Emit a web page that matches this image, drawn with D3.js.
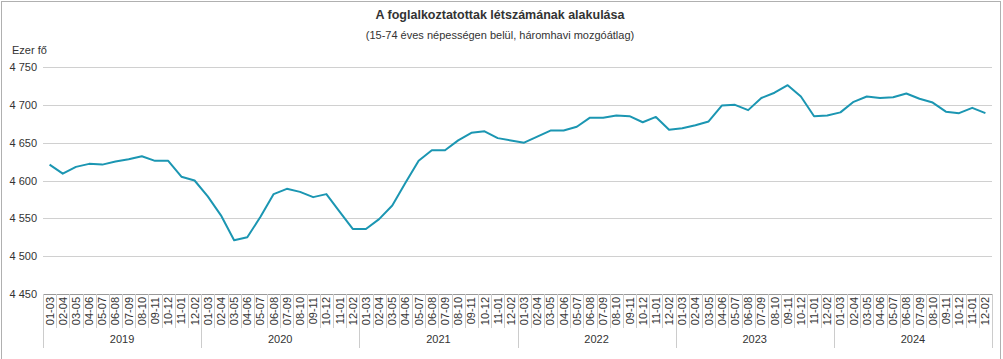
<!DOCTYPE html>
<html><head><meta charset="utf-8">
<script src="https://cdn.jsdelivr.net/npm/d3@7"></script>
<style>body{margin:0;background:#fff;} text{font-family:"Liberation Sans",Arial,sans-serif;}</style>
</head><body>
<svg id="c" width="1003" height="359"></svg>
<script>
const years = ["2019","2020","2021","2022","2023","2024"];
const periods = ["01-03","02-04","03-05","04-06","05-07","06-08","07-09","08-10","09-11","10-12","11-01","12-02"];
const values2019 = [4621,4609,4618,4622,4621,4625,4628,4632,4626,4626,4605,4600];
const values2020 = [4579,4554,4521,4525,4552,4582,4589,4585,4578,4582,4559,4536];
const values2021 = [4536,4549,4567,4597,4626,4640,4640,4653,4663,4665,4656,4653];
const values2022 = [4650,4658,4666,4666,4671,4683,4683,4686,4685,4677,4684,4667];
const values2023 = [4669,4673,4678,4699,4700,4693,4709,4716,4726,4711,4685,4686];
const values2024 = [4690,4704,4711,4709,4710,4715,4708,4703,4691,4689,4696,4689];
const yTicks = [4450,4500,4550,4600,4650,4700,4750];

(function(){
const allValues = [values2019,values2020,values2021,values2022,values2023,values2024];
const data = [];
years.forEach((yr,yi)=>periods.forEach((p,pi)=>data.push({key:yr+"-"+p, year:yr, period:p, value:allValues[yi][pi]})));

const svg = d3.select("#c");
const fmt = v => d3.format(",")(v).replace(/,/g," ");
const mLeft=43, mRight=992, mTop=67, mBottom=294;

svg.append("rect").attr("x",1.5).attr("y",1.5).attr("width",999).attr("height",370)
  .attr("fill","none").attr("stroke","#b0b0b0");

svg.append("text").attr("x",500).attr("y",19).attr("text-anchor","middle")
  .attr("font-size",12.5).attr("font-weight","bold").attr("fill","#333")
  .text("A foglalkoztatottak létszámának alakulása");
svg.append("text").attr("x",500).attr("y",39).attr("text-anchor","middle")
  .attr("font-size",11).attr("fill","#333")
  .text("(15-74 éves népességen belül, háromhavi mozgóátlag)");
svg.append("text").attr("x",12).attr("y",54).attr("font-size",11).attr("fill","#333").text("Ezer fő");

const x = d3.scaleBand().domain(data.map(d=>d.key)).range([mLeft,mRight]).padding(0);
const y = d3.scaleLinear().domain([4450,4750]).range([mBottom,mTop]);

svg.append("g").selectAll("line").data(yTicks.filter(t=>t>4450)).join("line")
  .attr("x1",mLeft).attr("x2",mRight).attr("y1",d=>Math.round(y(d))+0.5).attr("y2",d=>Math.round(y(d))+0.5)
  .attr("stroke","#d0d0d0").attr("stroke-width",1);

const ya = svg.append("g").attr("transform",`translate(${mLeft-6},0)`)
  .call(d3.axisLeft(y).tickValues(yTicks).tickFormat(fmt).tickSize(0));
ya.select(".domain").remove();
ya.selectAll("text").attr("font-size",11).attr("fill","#333").attr("font-family","Liberation Sans, Arial, sans-serif").attr("x",0).attr("dy","0.32em");

svg.append("line").attr("x1",mLeft).attr("x2",mRight).attr("y1",mBottom+0.5).attr("y2",mBottom+0.5).attr("stroke","#999");

const cg = svg.append("g");
cg.selectAll("line").data(data).join("line")
  .attr("x1",d=>Math.round(x(d.key))+0.5).attr("x2",d=>Math.round(x(d.key))+0.5)
  .attr("y1",mBottom).attr("y2",328).attr("stroke","#ccc");
svg.append("line").attr("x1",mRight+0.5).attr("x2",mRight+0.5).attr("y1",mBottom).attr("y2",348).attr("stroke","#ccc");
cg.selectAll("text").data(data).join("text")
  .attr("transform",d=>`translate(${x(d.key)+x.bandwidth()/2+4},297) rotate(-90)`)
  .attr("text-anchor","end").attr("font-size",11).attr("fill","#333").text(d=>d.period);

const yearX = yr => x(yr+"-01-03");
svg.append("g").selectAll("line").data(years).join("line")
  .attr("x1",d=>Math.round(yearX(d))+0.5).attr("x2",d=>Math.round(yearX(d))+0.5)
  .attr("y1",mBottom).attr("y2",348).attr("stroke","#ccc");
svg.append("g").selectAll("text").data(years).join("text")
  .attr("x",d=>yearX(d)+x.bandwidth()*6).attr("y",343).attr("text-anchor","middle")
  .attr("font-size",11).attr("fill","#333").text(d=>d);

svg.append("path").datum(data)
  .attr("d",d3.line().x(d=>x(d.key)+x.bandwidth()/2).y(d=>y(d.value)))
  .attr("fill","none").attr("stroke","#1b96b2").attr("stroke-width",2).attr("stroke-linejoin","round");
})();
</script>
</body></html>
